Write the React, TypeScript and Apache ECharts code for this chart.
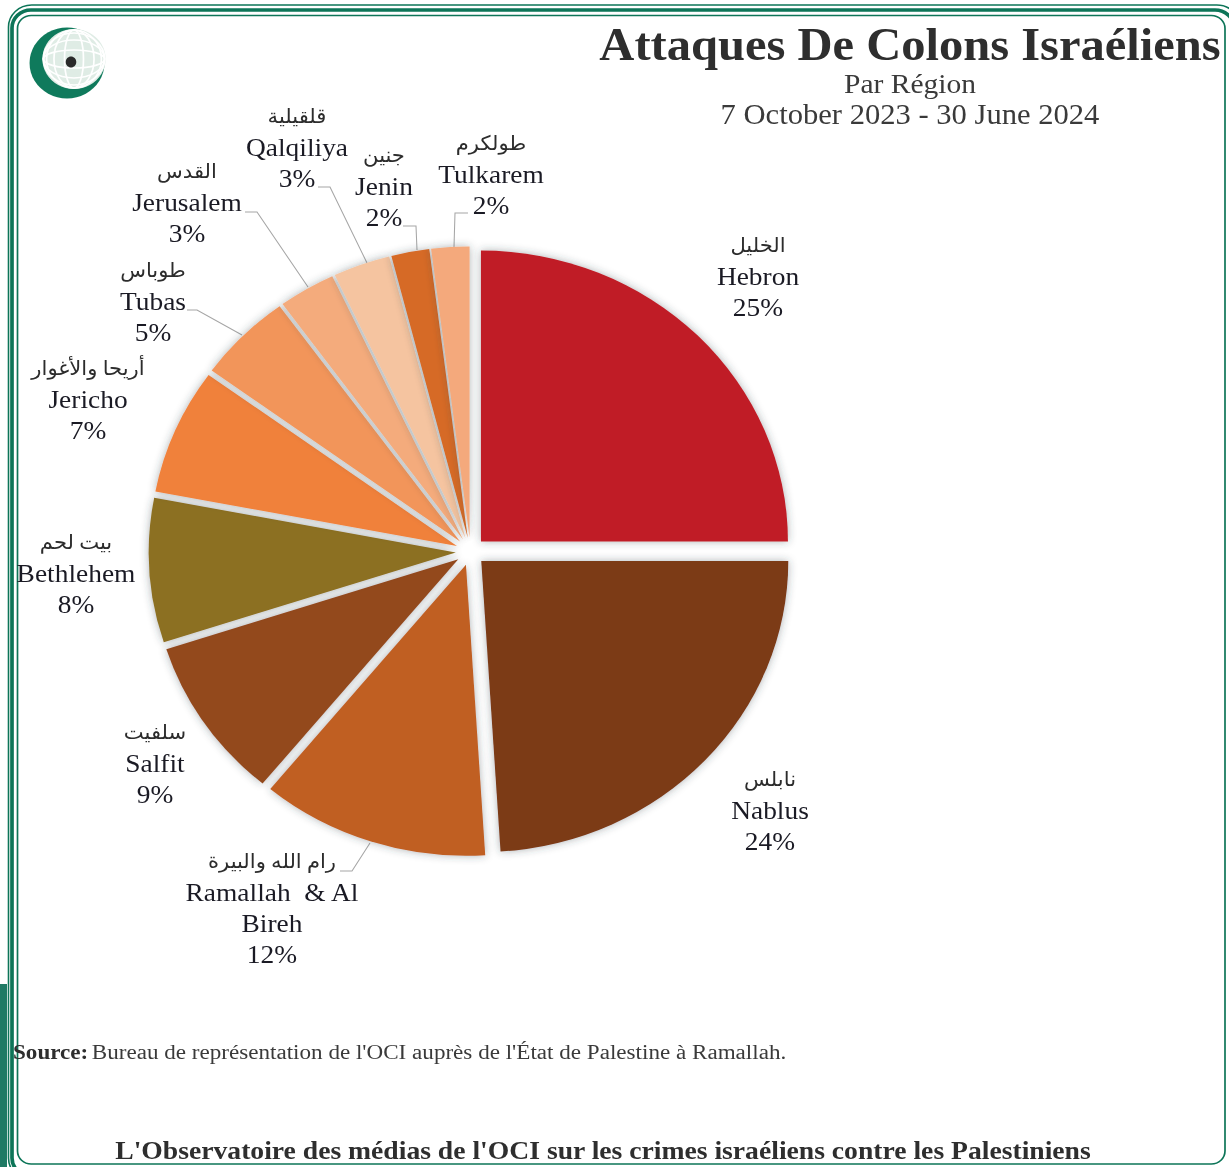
import React, { useEffect, useRef } from "react";
import * as echarts from "echarts";

const regions = ["Hebron", "Nablus", "Ramallah  & Al\nBireh", "Salfit", "Bethlehem", "Jericho", "Tubas", "Jerusalem", "Qalqiliya", "Jenin", "Tulkarem"];
const arabicNames = ["الخليل", "نابلس", "رام الله والبيرة", "سلفيت", "بيت لحم", "أريحا والأغوار", "طوباس", "القدس", "قلقيلية", "جنين", "طولكرم"];
const shares = [25, 24, 12, 9, 8, 7, 5, 3, 3, 2, 2];
const colors = ["#c01f26", "#7b3a16", "#c05f22", "#934a1f", "#8c6f20", "#f0813a", "#f2955a", "#f4ab7c", "#f5c4a0", "#d66a25", "#f4a97b"];

const labelCentres = [[758, 276], [770, 810], [272, 908], [155, 763], [76, 573], [88, 399], [153, 301], [187, 202], [297, 147], [384, 186], [491, 174]];
const leaders = [
  [[468, 213], [455, 213], [454, 247]],
  [[403, 226], [416, 226], [417, 250]],
  [[318, 187], [330, 187], [367, 263]],
  [[245, 212], [257, 212], [308, 287]],
  [[187, 310], [197, 310], [242, 335]],
  [[340, 871], [352, 871], [370, 843]],
];

const STRETCH = 1.055;
const W = 1229 / STRETCH;
const H = 1167;
const sx = (x: number) => x / STRETCH;
const SERIF = '"Liberation Serif", "DejaVu Sans", serif';
const GREEN = "#0d7558";
const PIE_CENTER = [sx(470.5), 551.5];
const PIE_RADIUS = 291;

function frame(x0: number, y0: number, x1: number, y1: number, r: number, lw: number) {
  return {
    type: "rect",
    shape: { x: sx(x0), y: y0, width: sx(x1 - x0), height: y1 - y0, r },
    style: { fill: "none", stroke: GREEN, lineWidth: lw },
    silent: true,
  };
}

function text(x: number, y: number, value: string, size: number, weight: string, align: string, fill = "#2e2e2e") {
  return {
    type: "text",
    x: sx(x),
    y,
    style: { text: value, font: `${weight} ${size}px ${SERIF}`, fill, align, verticalAlign: "middle" },
    silent: true,
  };
}

function logo() {
  const cx = sx(74);
  const cy = 59;
  const parts: any[] = [
    { type: "circle", shape: { cx: sx(67), cy: 63, r: 35.5 }, style: { fill: "#0f7a5c" } },
    { type: "circle", shape: { cx, cy, r: 30 }, style: { fill: "#dfece5" } },
  ];
  [9, 19, 26].forEach((rx) => {
    parts.push({ type: "ellipse", shape: { cx, cy, rx, ry: 29 }, style: { fill: "none", stroke: "#ffffff", lineWidth: 1.6 } });
    parts.push({ type: "ellipse", shape: { cx, cy, rx: 29, ry: rx }, style: { fill: "none", stroke: "#ffffff", lineWidth: 1.6 } });
  });
  parts.push({ type: "ellipse", shape: { cx: sx(71), cy: 62, rx: 5, ry: 5.5 }, style: { fill: "#2a2a2a" } });
  return { type: "group", silent: true, children: parts };
}

const pieBase = {
  type: "pie",
  center: PIE_CENTER,
  radius: [0, PIE_RADIUS],
  startAngle: 90,
  clockwise: true,
  silent: true,
  avoidLabelOverlap: false,
  emphasis: { disabled: true },
  labelLine: { show: false },
};

function buildSeries() {
  return [
    {
      ...pieBase,
      selectedMode: "multiple",
      selectedOffset: 14,
      label: { show: false },
      data: shares.map((value, i) => ({
        value,
        name: regions[i],
        selected: true,
        itemStyle: { color: colors[i], shadowBlur: 8, shadowColor: "rgba(50,60,70,0.4)" },
      })),
    },
    {
      ...pieBase,
      selectedMode: false,
      itemStyle: { color: "rgba(0,0,0,0)" },
      label: {
        show: true,
        position: "outside",
        formatter: (p: any) => {
          const lines = String(p.name).split("\n").map((l: string) => `{en|${l}}`);
          return [`{ar|${arabicNames[p.dataIndex]}}`, ...lines, `{en|${p.value}%}`].join("\n");
        },
        rich: {
          ar: { fontFamily: SERIF, fontSize: 20, lineHeight: 31, color: "#2c2c2c", align: "center" },
          en: { fontFamily: SERIF, fontSize: 26, lineHeight: 31, color: "#1a1a24", align: "center" },
        },
      },
      labelLayout: (p: any) => {
        const c = labelCentres[p.dataIndex];
        return { x: sx(c[0]), y: c[1], align: "center", verticalAlign: "middle" };
      },
      data: shares.map((value, i) => ({ value, name: regions[i] })),
    },
  ];
}

export default function App() {
  const ref = useRef<HTMLDivElement>(null);
  useEffect(() => {
    document.body.style.margin = "0";
    document.documentElement.style.overflow = "hidden";
    const chart = echarts.init(ref.current!, undefined, { renderer: "svg", width: W, height: H });
    chart.setOption({
      animation: false,
      backgroundColor: "#ffffff",
      series: buildSeries(),
      graphic: {
        elements: [
          { type: "rect", shape: { x: 0, y: 984, width: sx(7), height: 183 }, style: { fill: "#1f7a64" }, silent: true },
          frame(8.5, 5, 1240, 1180, 22, 1.5),
          frame(12, 10, 1234, 1176, 18, 3.5),
          frame(17.5, 15.5, 1225, 1164, 13, 1.6),
          logo(),
          text(910, 44, "Attaques De Colons Israéliens", 46, "bold", "center"),
          text(910, 83, "Par Région", 28, "normal", "center", "#3a3a3a"),
          text(910, 114, "7 October 2023 - 30 June 2024", 29, "normal", "center", "#3a3a3a"),
          {
            type: "text",
            x: sx(13),
            y: 1052,
            silent: true,
            style: {
              text: "{b|Source:} {n|Bureau de représentation de l'OCI auprès de l'État de Palestine à Ramallah.}",
              verticalAlign: "middle",
              rich: {
                b: { font: `bold 21.9px ${SERIF}`, fill: "#2e2e2e" },
                n: { font: `normal 21.9px ${SERIF}`, fill: "#3a3a3a" },
              },
            },
          },
          text(603, 1150, "L'Observatoire des médias de l'OCI sur les crimes israéliens contre les Palestiniens", 26.2, "bold", "center"),
          ...leaders.map((pts) => ({
            type: "polyline",
            silent: true,
            shape: { points: pts.map(([x, y]) => [sx(x), y]) },
            style: { stroke: "#a6a6a6", lineWidth: 1, fill: "none" },
          })),
        ],
      },
    });
    return () => chart.dispose();
  }, []);
  return (
    <div style={{ position: "fixed", left: 0, top: 0, width: 1229, height: H, overflow: "hidden", background: "#fff" }}>
      <div ref={ref} style={{ width: W, height: H, transform: `scaleX(${STRETCH})`, transformOrigin: "0 0" }} />
    </div>
  );
}
